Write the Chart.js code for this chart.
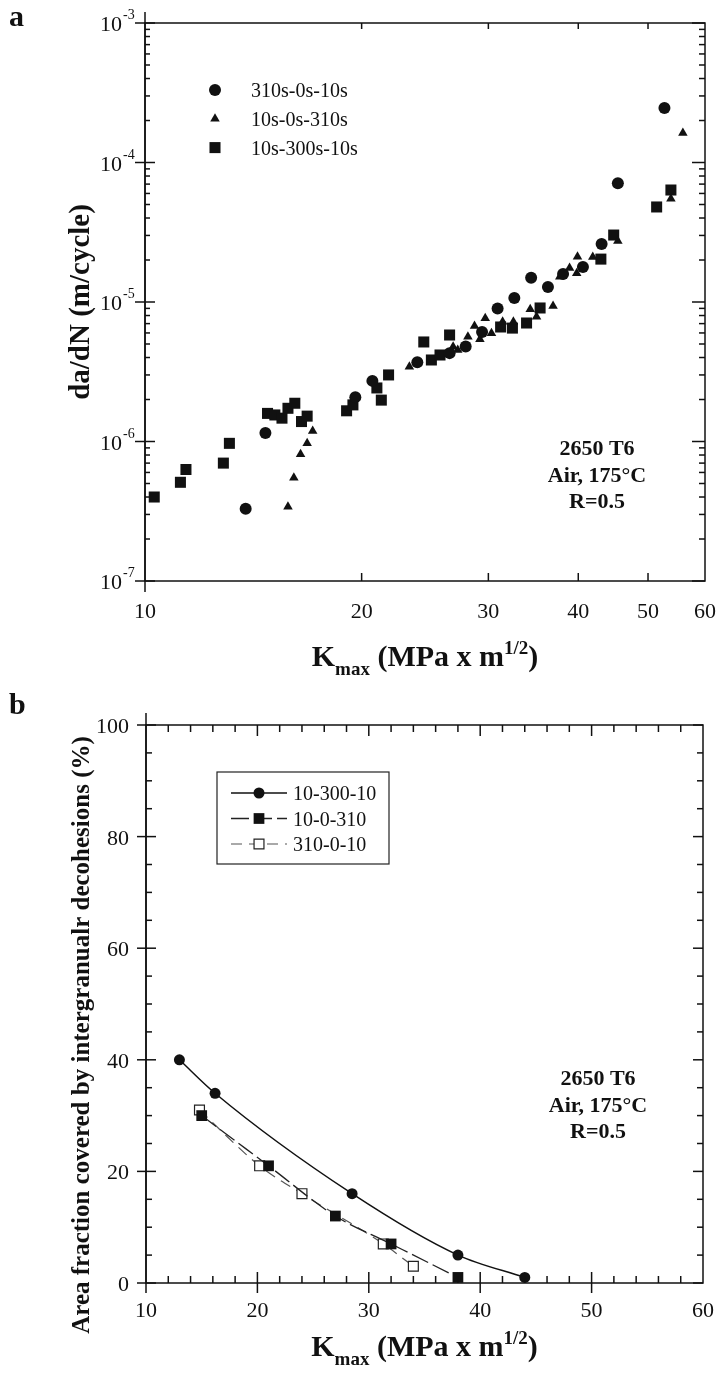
<!DOCTYPE html>
<html>
<head>
<meta charset="utf-8">
<script src="https://cdn.jsdelivr.net/npm/chart.js@4.4.0/dist/chart.umd.min.js"></script>
<style>
  html, body { margin: 0; padding: 0; background: #fff; }
  #wrapA { position: absolute; left: 0; top: 0; width: 716px; height: 690px; }
  #wrapB { position: absolute; left: 0; top: 690px; width: 716px; height: 684px; }
</style>
</head>
<body>
<div id="wrapA"><canvas id="chartA" width="716" height="690"></canvas></div>
<div id="wrapB"><canvas id="chartB" width="716" height="684"></canvas></div>
<script>
// ---- panel a : da/dN vs Kmax ----
const seriesA = ['310s-0s-10s', '10s-0s-310s', '10s-300s-10s'];
const kmaxCircle = [13.8, 14.7, 19.6, 20.7, 23.9, 26.5, 27.9, 29.4, 30.9, 32.6, 34.4, 36.3, 38.1, 40.6, 43.1, 45.4, 52.7];
const rateCircle = [3.3e-7, 1.15e-6, 2.08e-6, 2.72e-6, 3.7e-6, 4.3e-6, 4.8e-6, 6.1e-6, 9.0e-6, 1.07e-5, 1.49e-5, 1.28e-5, 1.59e-5, 1.78e-5, 2.6e-5, 7.1e-5, 2.46e-4];
const kmaxTriangle = [15.8, 16.1, 16.45, 16.8, 17.1, 23.3, 26.8, 27.2, 28.1, 28.7, 29.2, 29.7, 30.3, 31.4, 32.5, 34.3, 35.0, 36.9, 37.7, 38.9, 39.8, 39.9, 41.9, 45.4, 53.8, 55.9];
const rateTriangle = [3.4e-7, 5.5e-7, 8.1e-7, 9.7e-7, 1.19e-6, 3.44e-6, 4.78e-6, 4.53e-6, 5.64e-6, 6.73e-6, 5.4e-6, 7.64e-6, 5.97e-6, 7.22e-6, 7.22e-6, 8.87e-6, 7.85e-6, 9.36e-6, 1.52e-5, 1.75e-5, 1.61e-5, 2.11e-5, 2.1e-5, 2.74e-5, 5.5e-5, 1.63e-4];
const kmaxSquare = [10.3, 11.2, 11.4, 12.85, 13.1, 14.8, 15.15, 15.5, 15.8, 16.15, 16.5, 16.8, 19.06, 19.45, 21.0, 21.3, 21.8, 24.4, 25.0, 25.7, 26.5, 31.2, 32.4, 33.9, 35.4, 43.0, 44.8, 51.4, 53.8];
const rateSquare = [4.0e-7, 5.1e-7, 6.3e-7, 7.0e-7, 9.7e-7, 1.59e-6, 1.55e-6, 1.47e-6, 1.73e-6, 1.88e-6, 1.39e-6, 1.52e-6, 1.66e-6, 1.83e-6, 2.42e-6, 1.98e-6, 3.0e-6, 5.17e-6, 3.84e-6, 4.17e-6, 5.8e-6, 6.62e-6, 6.5e-6, 7.07e-6, 9.06e-6, 2.03e-5, 3.02e-5, 4.8e-5, 6.35e-5];
const kTicksA = [10, 20, 30, 40, 50, 60];
const rateExp = [-7, -6, -5, -4, -3];

// ---- panel b : area fraction vs Kmax ----
const seriesB = ['10-300-10', '10-0-310', '310-0-10'];
const kmaxB1 = [13, 16.2, 28.5, 38, 44];
const areaB1 = [40, 34, 16, 5, 1];
const kmaxB2 = [15, 21, 27, 32, 38];
const areaB2 = [30, 21, 12, 7, 1];
const kmaxB3 = [14.8, 20.2, 24, 31.3, 34];
const areaB3 = [31, 21, 16, 7, 3];
const kTicksB = [10, 20, 30, 40, 50, 60];
const areaTicks = [0, 20, 40, 60, 80, 100];

const noteLines = ['2650 T6', 'Air, 175°C', 'R=0.5'];

const SERIF = '"Liberation Serif", "Times New Roman", serif';
const INK = '#111';

const pts = (xs, ys) => xs.map((x, i) => ({ x: x, y: ys[i] }));

function seg(ctx, x1, y1, x2, y2) {
  ctx.beginPath();
  ctx.moveTo(x1, y1);
  ctx.lineTo(x2, y2);
  ctx.stroke();
}

function drawMarker(ctx, ds, x, y) {
  const r = ds.pointRadius;
  ctx.save();
  ctx.setLineDash([]);
  ctx.fillStyle = ds.backgroundColor;
  ctx.strokeStyle = ds.borderColor;
  ctx.lineWidth = ds.borderWidth || 1;
  ctx.beginPath();
  if (ds.pointStyle === 'circle') {
    ctx.arc(x, y, r, 0, Math.PI * 2);
  } else if (ds.pointStyle === 'triangle') {
    ctx.moveTo(x, y - r);
    ctx.lineTo(x + r * 0.866, y + r / 2);
    ctx.lineTo(x - r * 0.866, y + r / 2);
    ctx.closePath();
  } else {
    const h = r * Math.SQRT1_2;
    ctx.rect(x - h, y - h, 2 * h, 2 * h);
  }
  ctx.fill();
  if (ds.borderWidth > 0) ctx.stroke();
  ctx.restore();
}

// K_max (MPa x m^1/2) with sub/superscript
function kmaxTitle(ctx, cx, base) {
  const parts = [['K', 30, 0], ['max', 19, 9], [' (MPa x m', 30, 0], ['1/2', 19, -12], [')', 30, 0]];
  let w = 0;
  parts.forEach(p => { ctx.font = 'bold ' + p[1] + 'px ' + SERIF; p.w = ctx.measureText(p[0]).width; w += p.w; });
  let x = cx - w / 2;
  ctx.textAlign = 'left';
  ctx.textBaseline = 'alphabetic';
  parts.forEach(p => { ctx.font = 'bold ' + p[1] + 'px ' + SERIF; ctx.fillText(p[0], x, base + p[2]); x += p.w; });
}

function yTitle(ctx, text, size, x, cy) {
  ctx.save();
  ctx.translate(x, cy);
  ctx.rotate(-Math.PI / 2);
  ctx.font = 'bold ' + size + 'px ' + SERIF;
  ctx.textAlign = 'center';
  ctx.textBaseline = 'alphabetic';
  ctx.fillText(text, 0, 0);
  ctx.restore();
}

function notes(ctx, cx, base) {
  ctx.font = 'bold 22px ' + SERIF;
  ctx.textAlign = 'center';
  ctx.textBaseline = 'alphabetic';
  noteLines.forEach((t, i) => ctx.fillText(t, cx, base + i * 26.5));
}

// ---- panel a ----
const decorA = {
  id: 'decorA',
  afterDraw(chart) {
    const ctx = chart.ctx, a = chart.chartArea, xs = chart.scales.x, ys = chart.scales.y;
    ctx.save();
    ctx.strokeStyle = INK;
    ctx.fillStyle = INK;
    ctx.lineWidth = 1.5;
    ctx.strokeRect(a.left, a.top, a.right - a.left, a.bottom - a.top);
    seg(ctx, a.left, a.top - 11, a.left, a.bottom + 11);

    rateExp.forEach((e, i) => {
      const p = ys.getPixelForValue(Math.pow(10, e));
      seg(ctx, a.left - 10, p, a.left + 10, p);
      seg(ctx, a.right - 13, p, a.right, p);
      if (i < rateExp.length - 1) {
        for (let m = 2; m <= 9; m++) {
          const q = ys.getPixelForValue(m * Math.pow(10, e));
          seg(ctx, a.left, q, a.left + 5, q);
          seg(ctx, a.right - 6, q, a.right, q);
        }
      }
      ctx.textAlign = 'right';
      ctx.font = '22px ' + SERIF;
      ctx.fillText('10', 122, p + 8);
      ctx.textAlign = 'left';
      ctx.font = '14px ' + SERIF;
      ctx.fillText(String(e), 123, p - 4);
    });

    kTicksA.forEach((k, i) => {
      const p = xs.getPixelForValue(k);
      if (i > 0 && i < kTicksA.length - 1) {
        seg(ctx, p, a.bottom - 8, p, a.bottom);
        seg(ctx, p, a.top, p, a.top + 6);
      }
      ctx.font = '22px ' + SERIF;
      ctx.textAlign = 'center';
      ctx.fillText(String(k), p, 618);
    });

    // legend
    chart.data.datasets.forEach((ds, i) => {
      const y = 90 + i * 28.8;
      drawMarker(ctx, ds, 215, y);
      ctx.fillStyle = INK;
      ctx.font = '20px ' + SERIF;
      ctx.textAlign = 'left';
      ctx.fillText(ds.label, 251, y + 7);
    });

    ctx.fillStyle = INK;
    yTitle(ctx, 'da/dN (m/cycle)', 29, 89, (a.top + a.bottom) / 2);
    kmaxTitle(ctx, (a.left + a.right) / 2, 666);
    notes(ctx, 597, 455);
    ctx.font = 'bold 30px ' + SERIF;
    ctx.textAlign = 'left';
    ctx.fillText('a', 9, 26);
    ctx.restore();
  }
};

new Chart(document.getElementById('chartA'), {
  type: 'scatter',
  data: {
    datasets: [
      { label: seriesA[0], data: pts(kmaxCircle, rateCircle), pointStyle: 'circle', pointRadius: 6, backgroundColor: INK, borderColor: INK, borderWidth: 0 },
      { label: seriesA[1], data: pts(kmaxTriangle, rateTriangle), pointStyle: 'triangle', pointRadius: 5.5, backgroundColor: INK, borderColor: INK, borderWidth: 0 },
      { label: seriesA[2], data: pts(kmaxSquare, rateSquare), pointStyle: 'rect', pointRadius: 7.8, backgroundColor: INK, borderColor: INK, borderWidth: 0 }
    ]
  },
  options: {
    responsive: false,
    animation: false,
    layout: { autoPadding: false, padding: { top: 23, right: 11, left: 0, bottom: 0 } },
    plugins: { legend: { display: false }, tooltip: { enabled: false } },
    scales: {
      x: {
        type: 'logarithmic', min: 10, max: 60,
        grid: { display: false }, border: { display: false }, ticks: { display: false },
        afterFit(s) { s.height = 109; }
      },
      y: {
        type: 'logarithmic', min: 1e-7, max: 1e-3,
        grid: { display: false }, border: { display: false }, ticks: { display: false },
        afterFit(s) { s.width = 145; }
      }
    }
  },
  plugins: [decorA]
});

// ---- panel b ----
const decorB = {
  id: 'decorB',
  afterDraw(chart) {
    const ctx = chart.ctx, a = chart.chartArea, xs = chart.scales.x, ys = chart.scales.y;
    ctx.save();
    ctx.strokeStyle = INK;
    ctx.fillStyle = INK;
    ctx.lineWidth = 1.5;
    ctx.strokeRect(a.left, a.top, a.right - a.left, a.bottom - a.top);
    seg(ctx, a.left, a.top - 12, a.left, a.bottom + 10);

    for (let v = 0; v <= 100; v += 5) {
      const p = ys.getPixelForValue(v);
      if (areaTicks.includes(v)) {
        seg(ctx, a.left - 9, p, a.left + 10, p);
        seg(ctx, a.right - 10, p, a.right, p);
      } else {
        seg(ctx, a.left, p, a.left + 6, p);
        seg(ctx, a.right - 6, p, a.right, p);
      }
    }
    areaTicks.forEach(v => {
      const p = ys.getPixelForValue(v);
      ctx.font = '22px ' + SERIF;
      ctx.textAlign = 'right';
      ctx.fillText(String(v), 129, p + 8);
    });

    for (let k = 10; k <= 60; k += 2) {
      const p = xs.getPixelForValue(k);
      if (kTicksB.includes(k)) {
        if (k > 10 && k < 60) {
          seg(ctx, p, a.bottom - 11, p, a.bottom + 10);
          seg(ctx, p, a.top, p, a.top + 11);
        }
      } else {
        seg(ctx, p, a.bottom - 7, p, a.bottom);
        seg(ctx, p, a.top, p, a.top + 7);
      }
    }
    kTicksB.forEach(k => {
      const p = xs.getPixelForValue(k);
      ctx.font = '22px ' + SERIF;
      ctx.textAlign = 'center';
      ctx.fillText(String(k), p, 627);
    });

    // legend box
    ctx.lineWidth = 1.2;
    ctx.strokeStyle = '#222';
    ctx.strokeRect(217, 82, 172, 92);
    chart.data.datasets.forEach((ds, i) => {
      const y = 103 + i * 25.5;
      ctx.save();
      ctx.strokeStyle = ds.borderColor;
      ctx.lineWidth = ds.borderWidth;
      ctx.setLineDash(ds.borderDash || []);
      seg(ctx, 231, y, 287, y);
      ctx.restore();
      drawMarker(ctx, { pointStyle: ds.pointStyle, pointRadius: ds.pointRadius, backgroundColor: ds.pointBackgroundColor, borderColor: ds.pointBorderColor, borderWidth: ds.pointBorderWidth }, 259, y);
      ctx.fillStyle = INK;
      ctx.font = '20px ' + SERIF;
      ctx.textAlign = 'left';
      ctx.fillText(ds.label, 293, y + 7);
    });

    ctx.fillStyle = INK;
    yTitle(ctx, 'Area fraction covered by intergranualr decohesions (%)', 25, 89, 345);
    kmaxTitle(ctx, (a.left + a.right) / 2, 666);
    notes(ctx, 598, 395);
    ctx.font = 'bold 30px ' + SERIF;
    ctx.textAlign = 'left';
    ctx.fillText('b', 9, 24);
    ctx.restore();
  }
};

new Chart(document.getElementById('chartB'), {
  type: 'scatter',
  data: {
    datasets: [
      {
        label: seriesB[0], data: pts(kmaxB1, areaB1), showLine: true, cubicInterpolationMode: 'monotone',
        borderColor: INK, borderWidth: 1.5,
        pointStyle: 'circle', pointRadius: 5.5, pointBackgroundColor: INK, pointBorderColor: INK, pointBorderWidth: 0
      },
      {
        label: seriesB[1], data: pts(kmaxB2, areaB2), showLine: true, cubicInterpolationMode: 'monotone',
        borderColor: '#222', borderWidth: 1.3, borderDash: [18, 5],
        pointStyle: 'rect', pointRadius: 7.6, pointBackgroundColor: INK, pointBorderColor: INK, pointBorderWidth: 0
      },
      {
        label: seriesB[2], data: pts(kmaxB3, areaB3), showLine: true, cubicInterpolationMode: 'monotone',
        borderColor: '#555', borderWidth: 1.2, borderDash: [11, 7],
        pointStyle: 'rect', pointRadius: 7, pointBackgroundColor: '#fff', pointBorderColor: '#222', pointBorderWidth: 1.2
      }
    ]
  },
  options: {
    responsive: false,
    animation: false,
    layout: { autoPadding: false, padding: { top: 35, right: 13, left: 0, bottom: 0 } },
    plugins: { legend: { display: false }, tooltip: { enabled: false } },
    scales: {
      x: {
        type: 'linear', min: 10, max: 60,
        grid: { display: false }, border: { display: false }, ticks: { display: false },
        afterFit(s) { s.height = 91; }
      },
      y: {
        type: 'linear', min: 0, max: 100,
        grid: { display: false }, border: { display: false }, ticks: { display: false },
        afterFit(s) { s.width = 146; }
      }
    }
  },
  plugins: [decorB]
});
</script>
</body>
</html>
